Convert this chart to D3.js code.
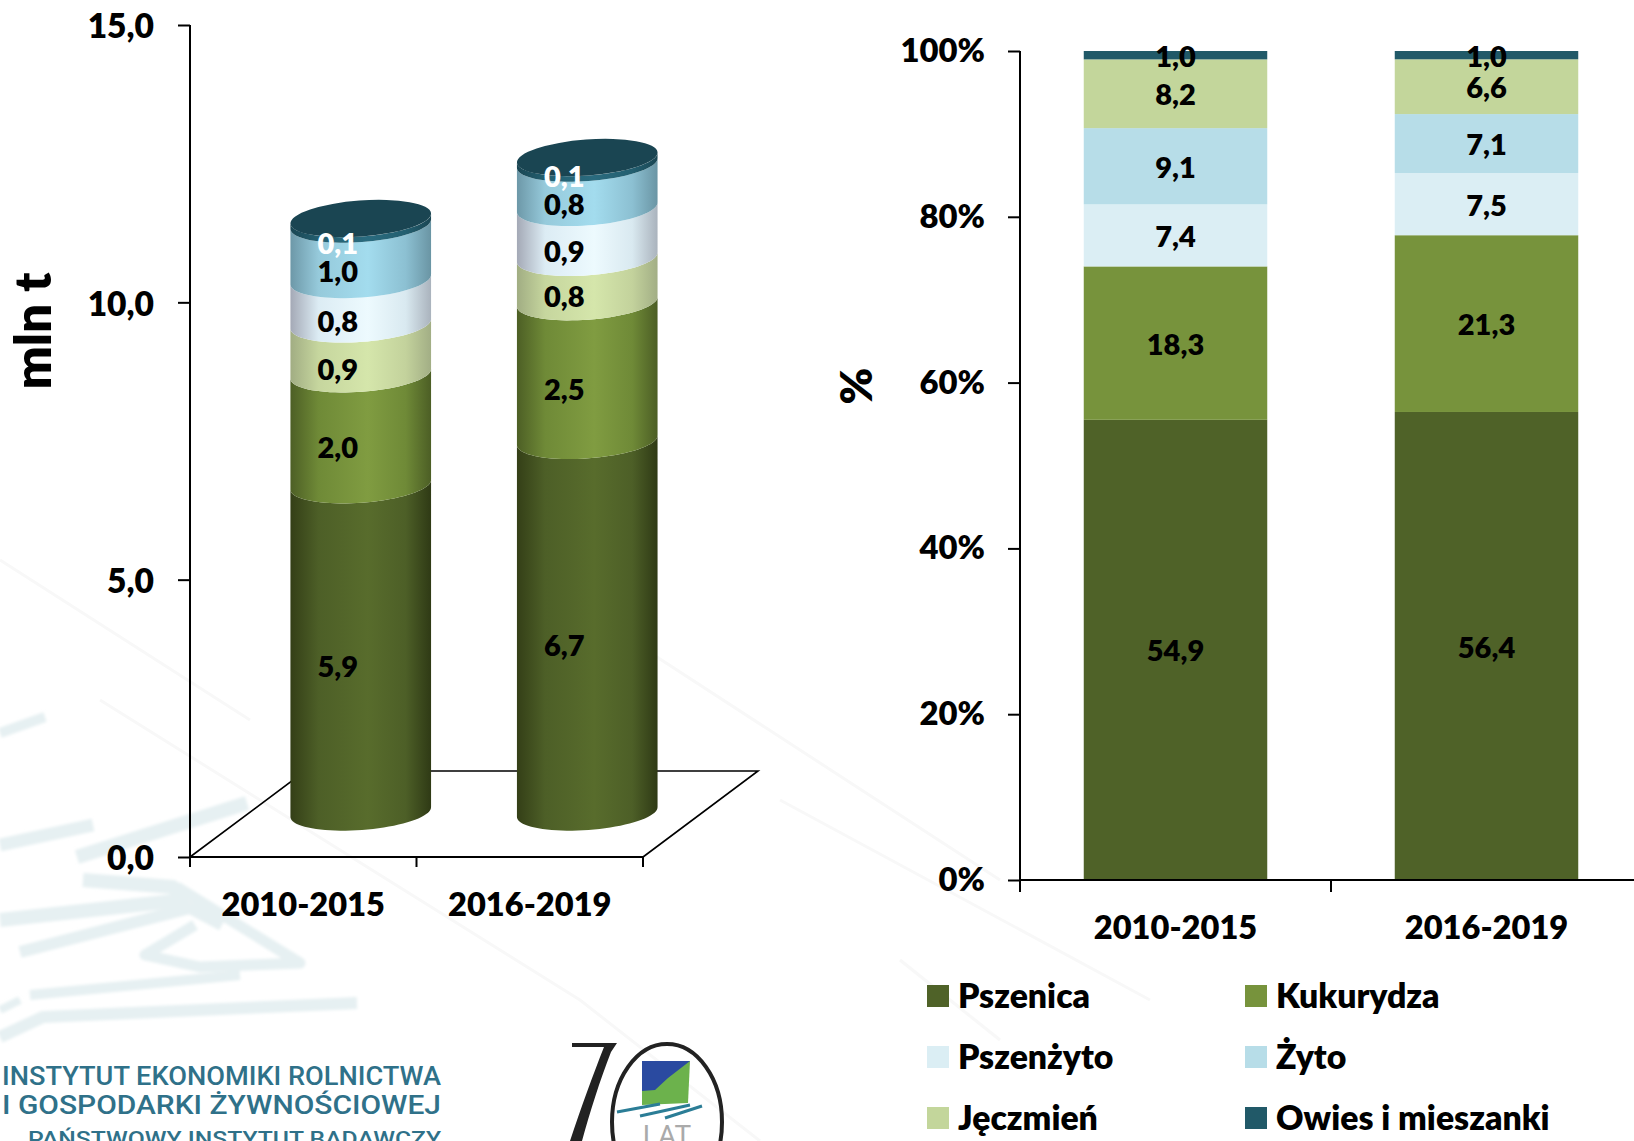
<!DOCTYPE html>
<html lang="pl">
<head>
<meta charset="utf-8">
<style>
html,body{margin:0;padding:0;background:#fff;overflow:hidden}
svg{display:block}
text{font-family:Lato,"Open Sans",sans-serif;font-weight:800;fill:#000}
</style>
<script src="https://cdn.jsdelivr.net/npm/d3@7/dist/d3.min.js"></script>
</head>
<body>
<svg id="c" width="1634" height="1141"></svg>
<script>
const categories = ["2010-2015", "2016-2019"];
const seriesNames = ["Pszenica", "Kukurydza", "Jęczmień", "Pszenżyto", "Żyto", "Owies i mieszanki"];
const seriesNamesShare = ["Pszenica", "Kukurydza", "Pszenżyto", "Żyto", "Jęczmień", "Owies i mieszanki"];
const legendOrder = ["Pszenica", "Kukurydza", "Pszenżyto", "Żyto", "Jęczmień", "Owies i mieszanki"];
const volume2010 = [5.9, 2.0, 0.9, 0.8, 1.0, 0.1];
const volume2016 = [6.7, 2.5, 0.8, 0.9, 0.8, 0.1];
const share2010 = [54.9, 18.3, 7.4, 9.1, 8.2, 1.0];
const share2016 = [56.4, 21.3, 7.5, 7.1, 6.6, 1.0];
const volumeTicks = [0, 5, 10, 15];
const shareTicks = [0, 0.2, 0.4, 0.6, 0.8, 1];
const colors = {"Pszenica":"#4f6228","Kukurydza":"#77933c","Pszenżyto":"#dbeef4","Żyto":"#b7dde8","Jęczmień":"#c3d69b","Owies i mieszanki":"#215968"};
const shades = {
  "Pszenica":["#343f17","#4d5f27","#586c2c","#4d5f27","#2f3a15"],
  "Kukurydza":["#4d5f25","#6f8a37","#809c41","#6f8a37","#4c5e25"],
  "Pszenżyto":["#a4a9b6","#dcecf4","#edfafe","#d9e9f0","#aab3bd"],
  "Żyto":["#6d98a8","#96cadb","#a3dcee","#8cc0d2","#6a95a4"],
  "Jęczmień":["#a1ad83","#c6d69e","#d5e6ab","#c3d29c","#a2ae85"],
  "Owies i mieszanki":["#1a4653","#235f70","#2a6b7e","#235f70","#1a4653"]
};
const comma = d3.format(".1f");
const fmt = v => comma(v).replace(".", ",");

const svg = d3.select("#c");
const defs = svg.append("defs");
Object.entries(shades).forEach(([name, stops], i) => {
  const g = defs.append("linearGradient").attr("id", "g" + i);
  [0, .2, .55, .82, 1].forEach((o, j) => g.append("stop").attr("offset", o).attr("stop-color", stops[j]));
});
const gradId = n => "url(#g" + Object.keys(shades).indexOf(n) + ")";
defs.append("filter").attr("id", "soft").append("feGaussianBlur").attr("stdDeviation", 1.6);

/* faint watermark behind the charts */
const wm = svg.append("g").attr("fill", "none").attr("stroke", "#e6f0f2").attr("stroke-linejoin", "round").attr("filter", "url(#soft)");
[
  ["M0,733L45,717", 10], ["M0,845L93,825", 13], ["M77,857L247,803", 14],
  ["M83,880L173,887L183,900L0,920", 14], ["M20,952L190,908L222,925", 12],
  ["M177,887L300,963L200,967L145,955L195,925", 11],
  ["M0,1037L43,1017L357,1003", 12], ["M30,995L240,975", 10], ["M0,1010L20,1000", 8]
].forEach(([d, w]) => wm.append("path").attr("d", d).attr("stroke-width", w));
const wm2 = svg.append("g").attr("fill", "none").attr("stroke", "#f8f8f8").attr("stroke-width", 3);
["M100,700L580,1000L760,1141", "M600,620L1000,880", "M0,560L250,720", "M780,800L1150,1000", "M900,960L1000,1040"]
  .forEach(d => wm2.append("path").attr("d", d));

/* left chart: 3D stacked cylinders */
const left = {x0:190, x1:643, y0:857, yTop:25, dx:115, dy:86, lift:45, rx:70.5, ry:18, tilt:-4.2};
const yL = d3.scaleLinear().domain([0, 15]).range([left.y0, left.yTop]);
const xL = d3.scaleBand().domain(categories).range([left.x0, left.x1]);

const floor = svg.append("g").attr("fill", "none").attr("stroke", "#000").attr("stroke-width", 1.6);
floor.append("path").attr("d", `M${left.x0},${left.y0}L${left.x0 + left.dx},${left.y0 - left.dy}L${left.x1 + left.dx},${left.y0 - left.dy}L${left.x1},${left.y0}`);

const axL = svg.append("g").attr("transform", `translate(${left.x0},0)`)
  .call(d3.axisLeft(yL).tickValues(volumeTicks).tickSize(12).tickFormat(fmt));
axL.selectAll("path,line").attr("stroke", "#000").attr("stroke-width", 2);
axL.select(".domain").attr("d", `M0,${yL(15)}V${left.y0}`);
axL.selectAll("text").attr("x", -36).attr("dy", 0).attr("y", 4).attr("dominant-baseline", "middle").style("font-size", "33.5px");

const axLB = svg.append("g").attr("transform", `translate(0,${left.y0})`)
  .call(d3.axisBottom(xL).tickSize(0).tickFormat(d => d));
axLB.selectAll(".tick text").attr("y", 51).attr("dy", 0).attr("dominant-baseline", "middle").style("font-size", "32.6px");
axLB.selectAll("path,line").attr("stroke", "#000").attr("stroke-width", 2);
axLB.select(".domain").attr("d", `M${left.x0},0H${left.x1}`);
[left.x0, left.x0 + xL.bandwidth(), left.x1].forEach(x =>
  axLB.append("line").attr("x1", x).attr("x2", x).attr("y1", 0).attr("y2", 10).attr("stroke", "#000").attr("stroke-width", 2));

const unit = left.y0 - yL(1);
const tilt = left.tilt * Math.PI / 180;
/* front half of a tilted ellipse, from its right end to its left end */
const frontArc = (cx, cy) => d3.range(0, 41).map(k => {
  const th = Math.PI * k / 40, a = left.rx * Math.cos(th), b = left.ry * Math.sin(th);
  return [cx + a * Math.cos(tilt) - b * Math.sin(tilt), cy + a * Math.sin(tilt) + b * Math.cos(tilt)];
});
const outline = d3.line();
[volume2010, volume2016].forEach((vals, ci) => {
  const cat = categories[ci];
  const cx = xL(cat) + xL.bandwidth() / 2 + left.dx / 2;
  const nudge = [[0, 0, 3, 2, 2, 4], [1, 0, -1, 1, 1, -2]][ci];
  const g = svg.append("g");
  const stack = Array.from(d3.cumsum(vals));
  const base = yL(0) - left.lift;
  vals.forEach((v, i) => {
    const name = seriesNames[i];
    const yTop = base - stack[i] * unit;
    const yBot = base - (stack[i] - v) * unit;
    const pts = frontArc(cx, yTop).concat(frontArc(cx, yBot).reverse());
    g.append("path").attr("d", outline(pts) + "Z").attr("fill", gradId(name));
  });
  const capY = base - stack[stack.length - 1] * unit;
  g.append("ellipse").attr("cx", cx).attr("cy", capY).attr("rx", left.rx).attr("ry", left.ry)
    .attr("transform", `rotate(${left.tilt} ${cx} ${capY})`).attr("fill", "#1a4552");
  vals.forEach((v, i) => {
    const mid = base - (stack[i] - v / 2) * unit;
    g.append("text").attr("x", cx - 23).attr("y", mid + 21 + nudge[i])
      .attr("text-anchor", "middle").attr("dominant-baseline", "middle")
      .style("font-size", "29px").style("fill", i === vals.length - 1 ? "#fff" : "#000").text(fmt(v));
  });
});

svg.append("text").attr("transform", "translate(38,331) rotate(-90)").attr("text-anchor", "middle")
  .attr("dominant-baseline", "middle").style("font-size", "51px").text("mln t");

/* right chart: 100% stacked columns */
const right = {x0:1020, x1:1642, y0:880, y1:51};
const xR = d3.scaleBand().domain(categories).range([right.x0, right.x1]).paddingInner(0.41).paddingOuter(0.205);
const yR = d3.scaleLinear().domain([0, 1]).range([right.y0, right.y1]);
const rows = categories.map((c, i) => {
  const src = i === 0 ? share2010 : share2016;
  const row = {cat: c};
  seriesNamesShare.forEach((n, j) => row[n] = src[j]);
  return row;
});
const layers = d3.stack().keys(seriesNamesShare).offset(d3.stackOffsetExpand)(rows);
const gR = svg.append("g");
layers.forEach(layer => {
  const fill = colors[layer.key];
  gR.append("g").selectAll("rect").data(layer).join("rect")
    .attr("x", d => xR(d.data.cat)).attr("width", xR.bandwidth())
    .attr("y", d => yR(d[1])).attr("height", d => yR(d[0]) - yR(d[1])).attr("fill", fill);
});
layers.forEach(layer => {
  gR.append("g").selectAll("text").data(layer).join("text")
    .attr("x", d => xR(d.data.cat) + xR.bandwidth() / 2)
    .attr("y", d => (yR(d[0]) + yR(d[1])) / 2 + 4)
    .attr("text-anchor", "middle").attr("dominant-baseline", "middle")
    .style("font-size", "29px").text(d => fmt(d.data[layer.key]));
});
const axR = svg.append("g").attr("transform", `translate(${right.x0},0)`)
  .call(d3.axisLeft(yR).tickValues(shareTicks).tickSize(12).tickFormat(d3.format(".0%")));
axR.selectAll("path,line").attr("stroke", "#000").attr("stroke-width", 2);
axR.select(".domain").attr("d", `M0,${right.y1}V${right.y0}`);
axR.selectAll("text").attr("x", -35).attr("dy", 0).attr("y", 2).attr("dominant-baseline", "middle").style("font-size", "32.8px");
const axRB = svg.append("g").attr("transform", `translate(0,${right.y0})`)
  .call(d3.axisBottom(xR).tickSize(0));
axRB.selectAll(".tick text").attr("y", 51).attr("dy", 0).attr("dominant-baseline", "middle").style("font-size", "32.6px");
axRB.selectAll("path,line").attr("stroke", "#000").attr("stroke-width", 2);
axRB.select(".domain").attr("d", `M${right.x0},0H${right.x1}`);
[right.x0, (right.x0 + right.x1) / 2].forEach(x =>
  axRB.append("line").attr("x1", x).attr("x2", x).attr("y1", 0).attr("y2", 12).attr("stroke", "#000").attr("stroke-width", 2));
svg.append("text").attr("transform", "translate(861,386) rotate(-90)").attr("text-anchor", "middle")
  .attr("dominant-baseline", "middle").style("font-size", "44px").text("%");

/* legend */
const legX = [927, 1245], legY = [996, 1057, 1118];
legendOrder.forEach((n, i) => {
  const x = legX[i % 2], y = legY[Math.floor(i / 2)];
  svg.append("rect").attr("x", x).attr("y", y - 11).attr("width", 22).attr("height", 22).attr("fill", colors[n]);
  svg.append("text").attr("x", x + 31).attr("y", y + 3).attr("dominant-baseline", "middle").style("font-size", "33.8px").text(n);
});

/* logo block */
const logo = svg.append("g");
[["INSTYTUT EKONOMIKI ROLNICTWA", 2, 1085, 439, 25], ["I GOSPODARKI ŻYWNOŚCIOWEJ", 2, 1114, 439, 25], ["PAŃSTWOWY INSTYTUT BADAWCZY", 28, 1146, 413, 20]]
  .forEach(([s, x, y, w, fs]) => logo.append("text").attr("x", x).attr("y", y).attr("textLength", w).attr("lengthAdjust", "spacingAndGlyphs")
    .style("font-family", "Roboto,sans-serif").style("font-weight", 500).style("font-size", fs + "px").style("fill", "#2f7189").text(s));
logo.append("path").attr("d", "M572,1043H617L611,1052C600,1080 590,1112 582,1141H570C582,1105 593,1075 604,1047H572Z").attr("fill", "#222");
logo.append("ellipse").attr("cx", 667).attr("cy", 1122).attr("rx", 55).attr("ry", 78).attr("fill", "none").attr("stroke", "#222").attr("stroke-width", 4);
logo.append("path").attr("d", "M642,1061H690L688,1103L642,1105Z").attr("fill", "#6cb24c");
logo.append("path").attr("d", "M642,1061H690L668,1078L655,1090L642,1091Z").attr("fill", "#2a4aa0");
logo.append("path").attr("d", "M617,1112L660,1104M640,1116L690,1105M665,1118L702,1106").attr("stroke", "#2b7d96").attr("stroke-width", 3).attr("fill", "none");
logo.append("text").attr("x", 667).attr("y", 1145).attr("text-anchor", "middle").style("font-family", "Roboto,sans-serif").style("font-size", "28px").style("font-weight", 400).style("fill", "#aaa").text("LAT");
</script>
</body>
</html>
